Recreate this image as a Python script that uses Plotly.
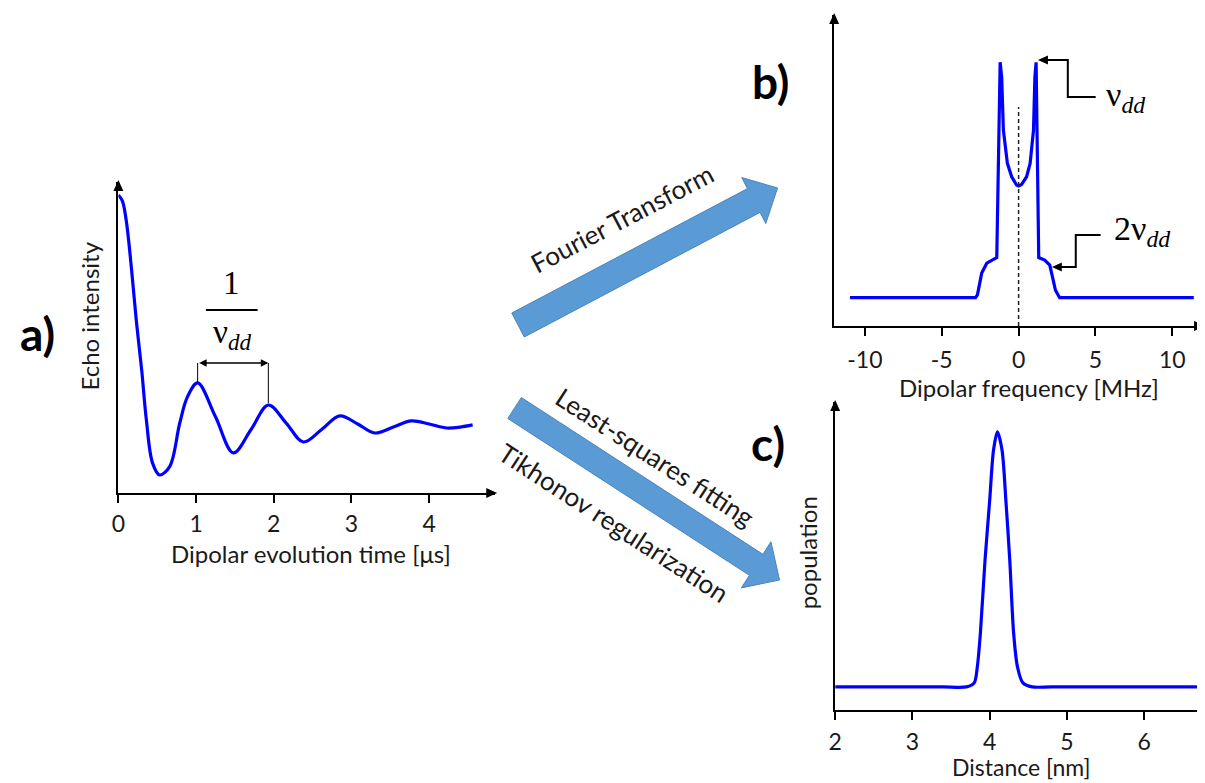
import plotly.graph_objects as go

# the page body has an 8px margin; the figure is sized so that reference pixels map 1:1
OFF = 8
W, H = 1205 - OFF, 783 - OFF

# ---------------- data ----------------
# a) dipolar evolution trace
time_us = [0, 0.05, 0.1, 0.17, 0.23, 0.3, 0.36, 0.44, 0.53, 0.66, 0.79, 0.89, 1.02, 1.25, 1.48,
           1.71, 1.93, 2.16, 2.38, 2.62, 2.85, 3.08, 3.3, 3.54, 3.77, 4.0, 4.23, 4.4, 4.56]
echo_intensity = [0.958, 0.94, 0.878, 0.717, 0.556, 0.395, 0.235, 0.096, 0.058, 0.085, 0.225, 0.31,
                  0.354, 0.245, 0.129, 0.205, 0.283, 0.225, 0.164, 0.205, 0.248, 0.222, 0.193, 0.212,
                  0.232, 0.222, 0.209, 0.212, 0.219]
a_tickvals = [0, 1, 2, 3, 4]

# b) Pake pattern
freq_mhz = [-10.97, -2.8, -2.68, -2.4, -2.07, -1.75, -1.42, -1.2, -1.1, -0.99, -0.73, -0.45, -0.13, 0.0,
            0.19, 0.52, 0.75, 0.97, 1.06, 1.14, 1.31, 1.7, 2.03, 2.4, 2.67, 11.4]
spectrum = [0.091, 0.091, 0.100, 0.170, 0.202, 0.210, 0.220, 0.848, 0.80, 0.630, 0.523, 0.480, 0.453,
            0.450, 0.455, 0.480, 0.523, 0.630, 0.80, 0.848, 0.220, 0.212, 0.196, 0.115, 0.091, 0.091]
b_tickvals = [-10, -5, 0, 5, 10]
b_ticktext = ["-10", "-5", "0", "5", "10"]

# c) distance distribution
distance_nm = [2.0, 2.8, 3.4, 3.7, 3.8, 3.84, 3.88, 3.94, 4.0, 4.05, 4.1, 4.16, 4.21, 4.26, 4.31,
               4.36, 4.43, 4.55, 4.8, 5.4, 6.1, 6.8]
population = [0.075, 0.075, 0.075, 0.075, 0.088, 0.14, 0.25, 0.487, 0.68, 0.844, 0.903, 0.844, 0.68,
              0.487, 0.25, 0.14, 0.088, 0.075, 0.075, 0.075, 0.075, 0.075]
c_tickvals = [2, 3, 4, 5, 6]


# ---------------- helpers (reference pixel -> paper) ----------------
def X(x):
    return (x - OFF) / W


def Y(y):
    return 1 - (y - OFF) / H


def path(points, close=True):
    s = "M " + " L ".join(f"{X(x):.5f},{Y(y):.5f}" for x, y in points)
    return s + (" Z" if close else "")


BLUE = "#0000ff"
TXT = "Lato"
MATH = "Liberation Serif"
INK = "#1a1a1a"

fig = go.Figure()
fig.add_trace(go.Scatter(x=time_us, y=echo_intensity, mode="lines", xaxis="x", yaxis="y",
                         line=dict(color=BLUE, width=3.2, shape="spline", smoothing=1.0),
                         hoverinfo="skip", showlegend=False))
fig.add_trace(go.Scatter(x=freq_mhz, y=spectrum, mode="lines", xaxis="x2", yaxis="y2",
                         line=dict(color=BLUE, width=3.2), hoverinfo="skip", showlegend=False))
fig.add_trace(go.Scatter(x=distance_nm, y=population, mode="lines", xaxis="x3", yaxis="y3",
                         line=dict(color=BLUE, width=3.2, shape="spline", smoothing=0.8),
                         hoverinfo="skip", showlegend=False))

xcommon = dict(showgrid=False, zeroline=False, showline=True, linecolor="black", linewidth=2,
               ticks="outside", ticklen=8, tickwidth=1.5, tickcolor="black",
               tickfont=dict(family=TXT, size=23, color=INK), fixedrange=True)
ycommon = dict(showgrid=False, zeroline=False, showline=True, linecolor="black", linewidth=2,
               ticks="", showticklabels=False, range=[0, 1], fixedrange=True)

fig.update_layout(
    width=W, height=H, margin=dict(l=0, r=0, t=0, b=0),
    paper_bgcolor="white", plot_bgcolor="white",
    xaxis=dict(xcommon, domain=[X(112), X(491)], range=[0, 4.85], anchor="y",
               tickvals=a_tickvals, ticklabelstandoff=1),
    yaxis=dict(ycommon, domain=[Y(493), Y(182)], anchor="x"),
    xaxis2=dict(xcommon, domain=[X(832), X(1203)], range=[-12, 12], anchor="y2",
                tickvals=b_tickvals, ticktext=b_ticktext, ticklabelstandoff=4),
    yaxis2=dict(ycommon, domain=[Y(326), Y(15)], anchor="x2"),
    xaxis3=dict(xcommon, domain=[X(833), 1.0], range=[2, 2 + (1205 - 833) / 77.7], anchor="y3",
                tickvals=c_tickvals, ticklabelstandoff=2),
    yaxis3=dict(ycommon, domain=[Y(710), Y(402)], anchor="x3"),
)

shapes = []


def tri(points):
    return dict(type="path", xref="paper", yref="paper", path=path(points),
                fillcolor="black", line=dict(width=0))


def head_up(x, y):
    return tri([(x, y), (x - 5, y + 11), (x + 5, y + 11)])


def head_right(x, y):
    return tri([(x, y), (x - 11, y - 5), (x - 11, y + 5)])


def head_left(x, y):
    return tri([(x, y), (x + 10, y - 4.5), (x + 10, y + 4.5)])


shapes += [head_up(112, 180), head_right(493, 493),
           head_up(832, 13), head_right(1205, 326),
           head_up(833, 400)]

# dashed centre line in b
shapes.append(dict(type="line", xref="x2", yref="y2", x0=0, x1=0, y0=0, y1=0.704,
                   line=dict(color="#222", width=1.5, dash="4px,3px")))

# 1/nu_dd markers in a
shapes.append(dict(type="line", xref="x", yref="y", x0=1.02, x1=1.02, y0=0.418, y1=0.354,
                   line=dict(color="black", width=1)))
shapes.append(dict(type="line", xref="x", yref="y", x0=1.93, x1=1.93, y0=0.418, y1=0.289,
                   line=dict(color="black", width=1)))
shapes.append(dict(type="line", xref="paper", yref="paper", x0=X(200), x1=X(252), y0=Y(310), y1=Y(310),
                   line=dict(color="black", width=2)))

# connectors in b
shapes.append(dict(type="path", xref="paper", yref="paper",
                   path=path([(1095, 97), (1067, 97), (1067, 60), (1046, 60)], close=False),
                   line=dict(color="black", width=2)))
shapes.append(head_left(1037, 60))
shapes.append(dict(type="path", xref="paper", yref="paper",
                   path=path([(1100, 235), (1075, 235), (1075, 267), (1060, 267)], close=False),
                   line=dict(color="black", width=2)))
shapes.append(head_left(1051, 267))

# block arrows
ARROW_FILL = "#5b9bd5"
ARROW_LINE = "#4a84bd"
fourier = [(507.7, 313), (744.8, 188.6), (739, 177.5), (775, 188), (763.2, 223.5), (757.4, 212.4),
           (520.3, 337)]
lsq = [(517.3, 397.5), (760.3, 554.3), (768.4, 541.7), (777, 580), (738.6, 587.9), (746.7, 575.3),
       (503.7, 418.5)]
for poly in (fourier, lsq):
    shapes.append(dict(type="path", xref="paper", yref="paper", path=path(poly),
                       fillcolor=ARROW_FILL, line=dict(color=ARROW_LINE, width=1), layer="below"))

fig.update_layout(shapes=shapes)

ann = []


def text(x, y, s, size, family=TXT, angle=0, xanchor="center", yanchor="middle", color=INK):
    ann.append(dict(x=X(x), y=Y(y), xref="paper", yref="paper", text=s, showarrow=False,
                    textangle=angle, xanchor=xanchor, yanchor=yanchor,
                    font=dict(family=family, size=size, color=color)))


# panel labels
text(31, 333, "<b>a)</b>", 46, color="black")
text(768, 82, "<b>b)</b>", 46, color="black")
text(765, 443, "<b>c)</b>", 46, color="black")

# axis titles
text(82, 316, "Echo intensity", 24, angle=-90)
text(306, 553, "Dipolar evolution time [μs]", 24)
text(1028, 387, "Dipolar frequency [MHz]", 24)
text(805, 553, "population", 24, angle=-90)
text(1020, 767, "Distance [nm]", 23)

# arrow captions
text(619, 218, "Fourier Transform", 26, angle=-27.7)
text(652, 457, "Least-squares fitting", 26, angle=33)
text(611, 523, "Tikhonov regularization", 26, angle=33)

# math labels
text(226, 283, "1", 33, family=MATH, color="black")
text(226, 334, "ν<sub><i>dd</i></sub>", 33, family=MATH, color="black")
text(1103, 97, "ν<sub><i>dd</i></sub>", 34, family=MATH, xanchor="left", color="black")
text(1111, 231, "2ν<sub><i>dd</i></sub>", 34, family=MATH, xanchor="left", color="black")

# double-headed arrow 1/nu_dd
ann.append(dict(x=1.93, y=0.418, ax=1.02, ay=0.418, xref="x", yref="y", axref="x", ayref="y",
                text="", showarrow=True, arrowhead=2, arrowside="end+start", arrowsize=1,
                arrowwidth=1.5, arrowcolor="black"))

fig.update_layout(annotations=ann)

fig.write_html("out.html")
